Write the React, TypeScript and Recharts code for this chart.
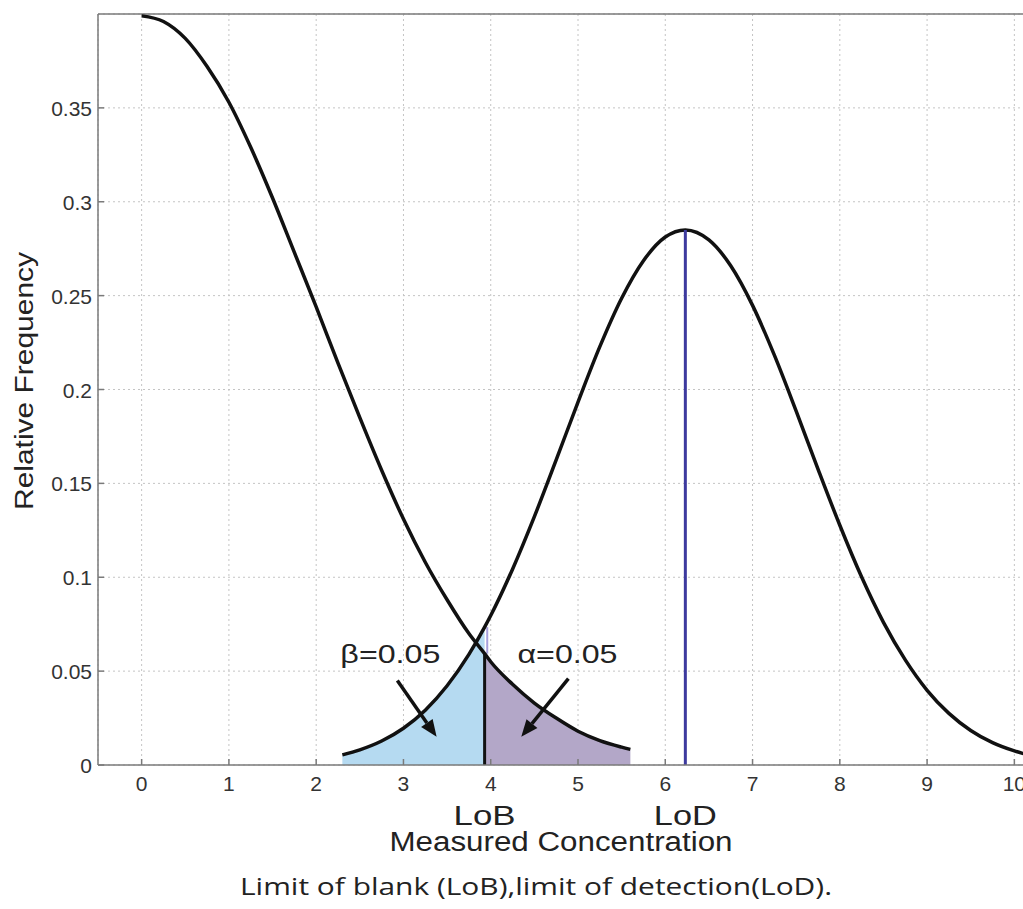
import {
  ComposedChart,
  Line,
  Area,
  XAxis,
  YAxis,
  CartesianGrid,
  ReferenceLine,
  ReferenceDot
} from 'recharts'

// blank sample distribution
const blankX = [0, 0.25, 0.5, 0.75, 1, 1.25, 1.5, 1.75, 2, 2.25, 2.5, 2.75, 3, 3.25, 3.5, 3.75, 3.93, 4, 4.25, 4.5, 4.75, 5, 5.25, 5.5, 5.6]
const blankY = [0.399, 0.396, 0.387, 0.372, 0.353, 0.329, 0.302, 0.273, 0.244, 0.214, 0.185, 0.157, 0.131, 0.108, 0.088, 0.07, 0.0593, 0.055, 0.043, 0.033, 0.025, 0.018, 0.013, 0.0095, 0.0083]

// low concentration sample distribution
const detectX = [2.3, 2.5, 2.75, 3, 3.25, 3.5, 3.75, 3.93, 4, 4.25, 4.5, 4.75, 5, 5.25, 5.5, 5.75, 6, 6.23, 6.5, 6.75, 7, 7.25, 7.5, 7.75, 8, 8.25, 8.5, 8.75, 9, 9.25, 9.5, 9.75, 10, 10.25, 10.5]
const detectY = [0.0054, 0.0081, 0.0128, 0.0196, 0.0292, 0.0422, 0.0589, 0.0734, 0.0796, 0.1043, 0.1323, 0.1625, 0.1933, 0.2228, 0.2486, 0.2686, 0.2812, 0.285, 0.2797, 0.2659, 0.2448, 0.2183, 0.1885, 0.1576, 0.1277, 0.1001, 0.076, 0.056, 0.0398, 0.0275, 0.0184, 0.0119, 0.0075, 0.0045, 0.0027]

const xTicks = [0, 1, 2, 3, 4, 5, 6, 7, 8, 9, 10]
const yTicks = [0, 0.05, 0.1, 0.15, 0.2, 0.25, 0.3, 0.35]

const LOB = 3.93
const LOB_TOP = 0.0593
const LOB_TOP_DETECT = 0.0734
const LOD = 6.23
const LOD_TOP = 0.285

const blankData = blankX.map((x, i) => ({ x, y: blankY[i] }))
const detectData = detectX.map((x, i) => ({ x, y: detectY[i] }))
const betaData = detectData.filter((d) => d.x <= LOB)
const alphaData = blankData.filter((d) => d.x >= LOB)

const FONT = '"Liberation Sans", Arial, Helvetica, sans-serif'
const AXIS = '#7a7a7a'

const XTick = ({ x, y, payload }: any) => (
  <g>
    <line x1={x} x2={x} y1={y} y2={y - 6} stroke={AXIS} strokeWidth={1.5} />
    <text x={x} y={y + 26} textAnchor="middle" fontSize={21} fill="#333" fontFamily={FONT}>
      {payload.value}
    </text>
  </g>
)

const YTick = ({ x, y, payload }: any) => (
  <g>
    <line x1={x} x2={x + 6} y1={y} y2={y} stroke={AXIS} strokeWidth={1.5} />
    <text x={x - 6} y={y + 8} textAnchor="end" fontSize={21} fill="#333" fontFamily={FONT}>
      {payload.value}
    </text>
  </g>
)

const Arrow = (props: any) => {
  const { x1, y1, x2, y2 } = props
  const a = Math.atan2(y2 - y1, x2 - x1)
  const len = 17
  const half = 7
  const bx = x2 - len * Math.cos(a)
  const by = y2 - len * Math.sin(a)
  const pts = `${x2},${y2} ${bx - half * Math.sin(a)},${by + half * Math.cos(a)} ${bx + half * Math.sin(a)},${by - half * Math.cos(a)}`
  return (
    <g>
      <line x1={x1} y1={y1} x2={bx} y2={by} stroke="#111" strokeWidth={3.5} />
      <polygon points={pts} fill="#111" />
    </g>
  )
}

const LineNote = ({ viewBox, text, len }: any) => {
  if (!viewBox) return null
  const cx = viewBox.x + (viewBox.width || 0) / 2
  const bottom = viewBox.y + (viewBox.height || 0)
  return (
    <text x={cx} y={bottom + 60} textAnchor="middle" fontSize={28} fill="#222" fontFamily={FONT}
      textLength={len} lengthAdjust="spacingAndGlyphs">
      {text}
    </text>
  )
}

const DotNote = ({ viewBox, text, len }: any) => {
  if (!viewBox) return null
  return (
    <text x={viewBox.x + (viewBox.width || 0) / 2} y={viewBox.y} textAnchor="middle" fontSize={25} fill="#222"
      fontFamily={FONT} textLength={len} lengthAdjust="spacingAndGlyphs">
      {text}
    </text>
  )
}

const XTitle = ({ viewBox }: any) => {
  if (!viewBox) return null
  return (
    <g>
      <text x={viewBox.x + 463} y={viewBox.y + 86} textAnchor="middle" fontSize={27} fill="#222" fontFamily={FONT}
        textLength={343} lengthAdjust="spacingAndGlyphs">
        Measured Concentration
      </text>
      <text x={viewBox.x + 438} y={viewBox.y + 130} textAnchor="middle" fontSize={23} fill="#222"
        fontFamily='"Open Sans", "Noto Sans", sans-serif' textLength={592} lengthAdjust="spacingAndGlyphs">
        Limit of blank (LoB),limit of detection(LoD).
      </text>
    </g>
  )
}

const YTitle = ({ viewBox }: any) => {
  if (!viewBox) return null
  const x = viewBox.x + 33
  const y = 381
  return (
    <text x={x} y={y} transform={`rotate(-90 ${x} ${y})`} textAnchor="middle" fontSize={25} fill="#222"
      fontFamily={FONT} textLength={258} lengthAdjust="spacingAndGlyphs">
      Relative Frequency
    </text>
  )
}

export default function App() {
  return (
    <div style={{ position: 'absolute', left: 0, top: 0, width: 1023, height: 909, overflow: 'hidden', background: '#fff' }}>
      <ComposedChart width={1058} height={909} margin={{ top: 14, right: 0, bottom: 114, left: 0 }}>
        <CartesianGrid stroke="#c4c4c4" strokeDasharray="2 3" />
        <XAxis
          type="number"
          dataKey="x"
          domain={[-0.5, 10.5]}
          ticks={xTicks}
          allowDataOverflow
          height={30}
          tickSize={0}
          tickMargin={0}
          tickLine={false}
          axisLine={{ stroke: AXIS, strokeWidth: 1.5 }}
          tick={<XTick />}
          label={<XTitle />}
        />
        <YAxis
          type="number"
          domain={[0, 0.4]}
          ticks={yTicks}
          allowDataOverflow
          width={98}
          tickSize={0}
          tickMargin={0}
          tickLine={false}
          axisLine={{ stroke: AXIS, strokeWidth: 1.5 }}
          tick={<YTick />}
          label={<YTitle />}
        />
        <ReferenceLine y={0.4} stroke={AXIS} strokeWidth={1.5} />
        <Area data={betaData} dataKey="y" type="monotone" stroke="none" fill="#b5daf1" fillOpacity={1} isAnimationActive={false} />
        <Area data={alphaData} dataKey="y" type="monotone" stroke="none" fill="#b3a7c8" fillOpacity={1} isAnimationActive={false} />
        <ReferenceLine
          segment={[{ x: LOB + 0.03, y: LOB_TOP }, { x: LOB + 0.03, y: LOB_TOP_DETECT }]}
          stroke="#a7a0dc"
          strokeWidth={2}
        />
        <Line data={blankData} dataKey="y" type="monotone" stroke="#111" strokeWidth={3.5} dot={false} isAnimationActive={false} />
        <Line data={detectData} dataKey="y" type="monotone" stroke="#111" strokeWidth={3.5} dot={false} isAnimationActive={false} />
        <ReferenceLine
          segment={[{ x: LOB, y: 0 }, { x: LOB, y: LOB_TOP }]}
          stroke="#111"
          strokeWidth={3}
          label={<LineNote text="LoB" len={62} />}
        />
        <ReferenceLine
          segment={[{ x: LOD, y: 0 }, { x: LOD, y: LOD_TOP }]}
          stroke="#3d3a9e"
          strokeWidth={3}
          label={<LineNote text="LoD" len={63} />}
        />
        <ReferenceLine segment={[{ x: 2.93, y: 0.045 }, { x: 3.38, y: 0.015 }]} shape={Arrow} />
        <ReferenceLine segment={[{ x: 4.89, y: 0.046 }, { x: 4.35, y: 0.015 }]} shape={Arrow} />
        <ReferenceDot x={2.85} y={0.0543} r={0} stroke="none" fill="none" label={<DotNote text="β=0.05" len={100} />} />
        <ReferenceDot x={4.88} y={0.0543} r={0} stroke="none" fill="none" label={<DotNote text="α=0.05" len={100} />} />
      </ComposedChart>
    </div>
  )
}
